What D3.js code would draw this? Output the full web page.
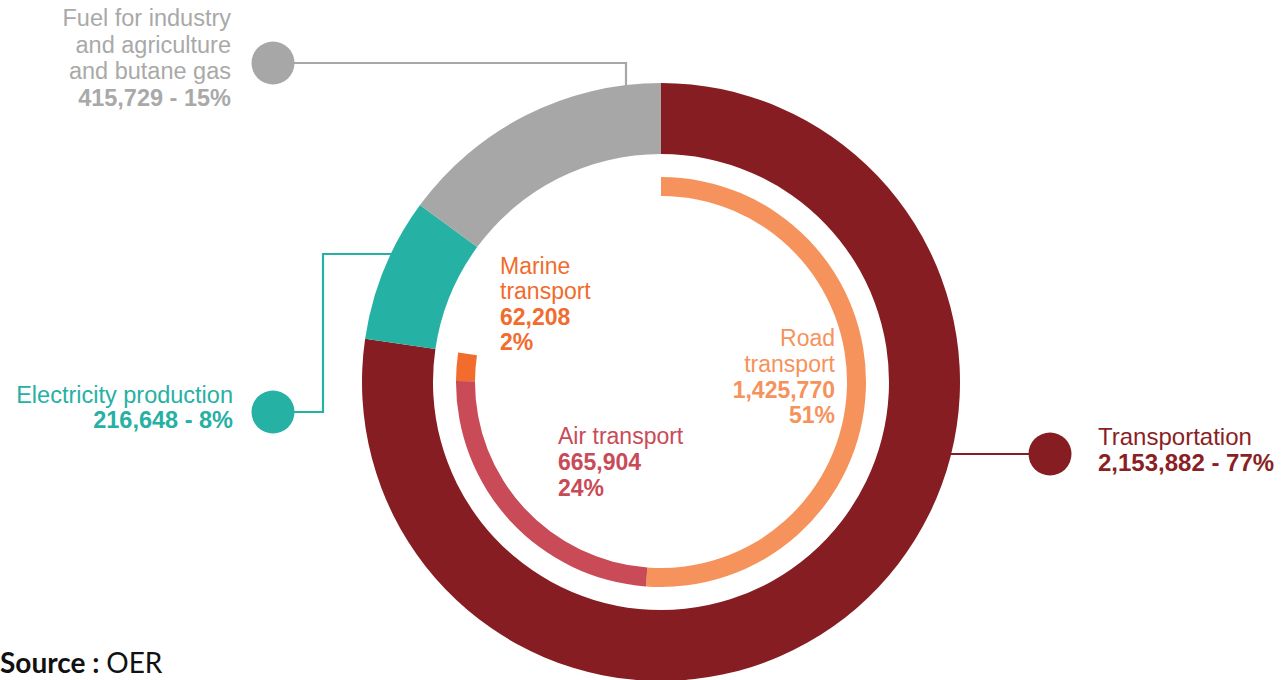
<!DOCTYPE html>
<html>
<head>
<meta charset="utf-8">
<script src="https://cdn.jsdelivr.net/npm/d3@7"></script>
<style>
  html, body { margin: 0; padding: 0; background: #fff; }
  svg { display: block; }
  text { font-family: "Liberation Sans", Arial, Helvetica, sans-serif; }
</style>
</head>
<body>
<svg id="chart" width="1281" height="680"></svg>
<script>
// Final consumption of petroleum products by sector (outer ring)
const sectorNames  = ["Transportation", "Electricity production", "Fuel for industry and agriculture and butane gas"];
const sectorValues = [2153882, 216648, 415729];
const sectorColors = ["#861d22", "#26b1a5", "#a6a7a6"];
const sectorText   = ["#8a1f25", "#27b0a4", "#a9a9a9"];

// Breakdown of the transportation sector (inner ring)
const transportNames  = ["Road transport", "Air transport", "Marine transport"];
const transportValues = [1425770, 665904, 62208];
const transportColors = ["#f6925b", "#c84b57", "#f16c2d"];

const total = d3.sum(sectorValues);
const fmtNum = d3.format(",");
const pct = v => Math.round(v / total * 100) + "%";

const svg = d3.select("#chart");
const cx = 661, cy = 382;
const outerR = 299, outerInner = 228;
const innerR = 205, innerInner = 186;

const g = svg.append("g").attr("transform", `translate(${cx},${cy})`);

const pie = d3.pie().sort(null).value(d => d.value).startAngle(0).endAngle(2 * Math.PI);

// Outer ring
const outerData = pie(sectorNames.map((n, i) => ({ name: n, value: sectorValues[i], color: sectorColors[i] })));
const outerArc = d3.arc().innerRadius(outerInner).outerRadius(outerR);
g.selectAll("path.outer").data(outerData).join("path")
  .attr("class", "outer")
  .attr("d", outerArc)
  .attr("fill", d => d.data.color);

// Inner ring: transport modes, with the non-transport share left empty
const innerItems = transportNames.map((n, i) => ({ name: n, value: transportValues[i], color: transportColors[i] }));
innerItems.push({ name: "other", value: total - d3.sum(transportValues), color: null });
const innerData = pie(innerItems).filter(d => d.data.color);
const innerArc = d3.arc().innerRadius(innerInner).outerRadius(innerR);
g.selectAll("path.inner").data(innerData).join("path")
  .attr("class", "inner")
  .attr("d", innerArc)
  .attr("fill", d => d.data.color);

// Point on the outer edge of the ring at a given vertical offset (left or right side)
const edgeX = (dy, side) => cx + side * Math.sqrt(outerR * outerR - dy * dy);
const edgeY = (x) => cy - Math.sqrt(outerR * outerR - (x - cx) * (x - cx));

// Leader lines and bullets
const leaders = svg.append("g").attr("fill", "none").attr("stroke-width", 2.2);
// Fuel / butane
const fuelDotY = 63, fuelElbowX = 626;
leaders.append("path")
  .attr("stroke", sectorColors[2])
  .attr("d", `M273,${fuelDotY} H${fuelElbowX} V${edgeY(fuelElbowX) + 2}`);
// Electricity
const elecDotY = 412, elecElbowX = 323, elecRingY = 254;
leaders.append("path")
  .attr("stroke", sectorColors[1])
  .attr("d", `M273,${elecDotY} H${elecElbowX} V${elecRingY} H${edgeX(elecRingY - cy, -1) + 2}`);
// Transportation
const transDotY = 454;
leaders.append("path")
  .attr("stroke", sectorColors[0])
  .attr("d", `M${edgeX(transDotY - cy, 1) - 2},${transDotY} H1050`);

const dots = [
  { x: 273, y: fuelDotY, c: sectorColors[2] },
  { x: 273, y: elecDotY, c: sectorColors[1] },
  { x: 1050, y: transDotY, c: sectorColors[0] }
];
svg.selectAll("circle.dot").data(dots).join("circle")
  .attr("class", "dot")
  .attr("cx", d => d.x).attr("cy", d => d.y).attr("r", 21.5)
  .attr("fill", d => d.c);

// Multi-line label helper
function label(x, y0, lh, anchor, color, lines, size) {
  const t = svg.append("text")
    .attr("x", x).attr("y", y0)
    .attr("text-anchor", anchor)
    .attr("fill", color)
    .style("font-size", (size || 23.5) + "px");
  lines.forEach((l, i) => {
    t.append("tspan")
      .attr("x", x)
      .attr("y", y0 + i * lh)
      .attr("font-weight", l.bold ? "bold" : "normal")
      .text(l.text);
  });
}

// Outer sector labels
label(231, 26, 26.5, "end", sectorText[2], [
  { text: "Fuel for industry" },
  { text: "and agriculture" },
  { text: "and butane gas" },
  { text: fmtNum(sectorValues[2]) + " - " + pct(sectorValues[2]), bold: true }
]);
label(233, 403, 25, "end", sectorText[1], [
  { text: "Electricity production" },
  { text: fmtNum(sectorValues[1]) + " - " + pct(sectorValues[1]), bold: true }
]);
label(1098, 445, 25.5, "start", sectorText[0], [
  { text: "Transportation" },
  { text: fmtNum(sectorValues[0]) + " - " + pct(sectorValues[0]), bold: true }
], 24);

// Transport mode labels
label(835, 346, 25.8, "end", transportColors[0], [
  { text: "Road" },
  { text: "transport" },
  { text: fmtNum(transportValues[0]), bold: true },
  { text: pct(transportValues[0]), bold: true }
], 23);
label(558, 444, 26, "start", transportColors[1], [
  { text: "Air transport" },
  { text: fmtNum(transportValues[1]), bold: true },
  { text: pct(transportValues[1]), bold: true }
], 23);
label(500, 274, 25.3, "start", transportColors[2], [
  { text: "Marine" },
  { text: "transport" },
  { text: fmtNum(transportValues[2]), bold: true },
  { text: pct(transportValues[2]), bold: true }
], 23);

// Source note
const src = svg.append("text")
  .attr("x", 0).attr("y", 673)
  .attr("fill", "#111")
  .style("font-family", "Lato, 'Open Sans', sans-serif")
  .style("font-size", "28px");
src.append("tspan").attr("font-weight", "bold").text("Source : ");
src.append("tspan").text("OER");
</script>
</body>
</html>
